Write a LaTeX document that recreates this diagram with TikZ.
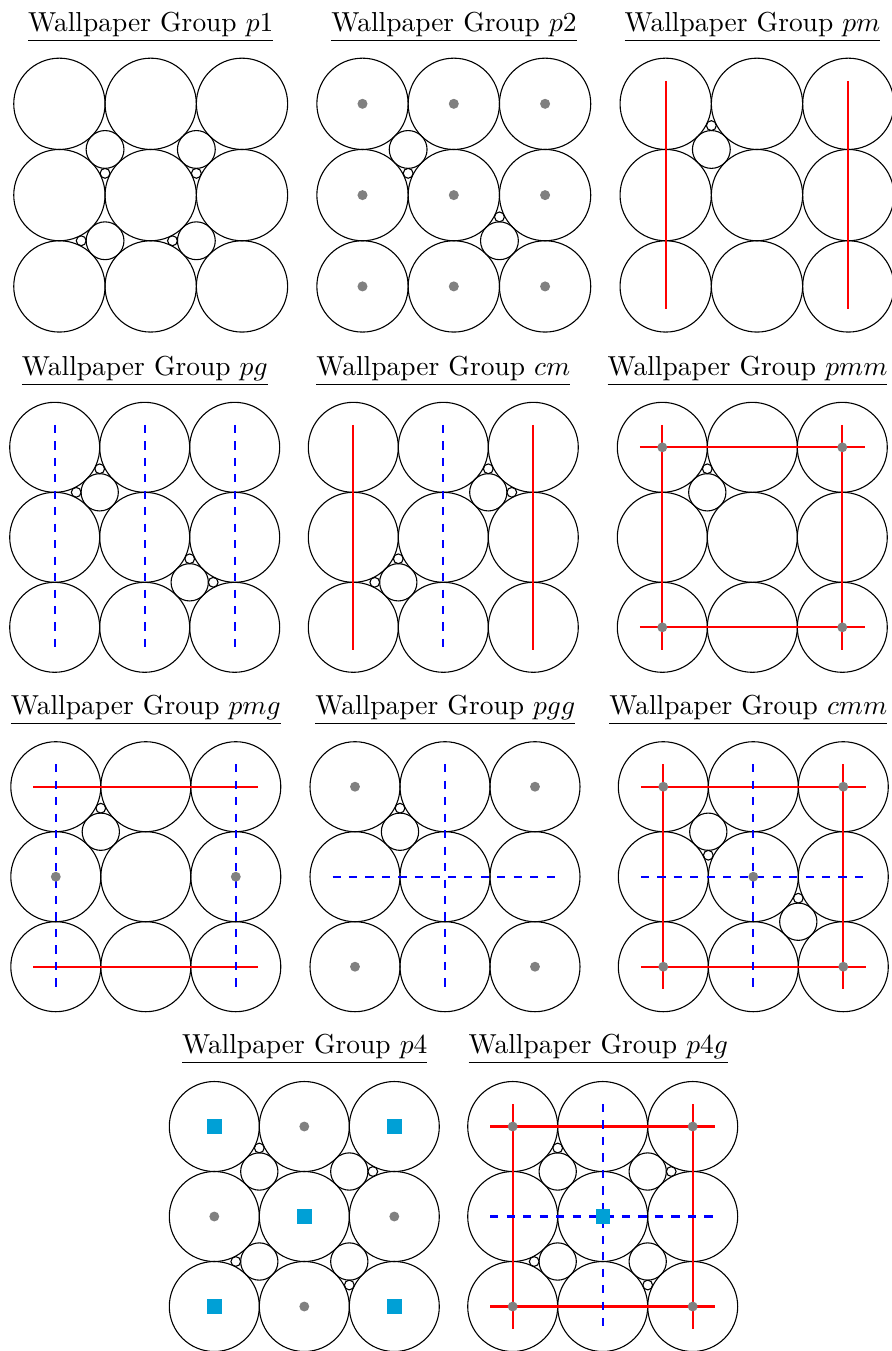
\documentclass[tikz,border=0pt]{standalone}
\usepackage{amsmath}
\definecolor{quartblue}{RGB}{0,160,214}

% nine touching circles round the panel centre (unit = circle radius)
\newcommand{\lattice}{%
  \foreach \cx in {-2,0,2}
    \foreach \cy in {-2,0,2}
      \draw[disc] (\cx,\cy) circle (1);%
}
% small circle next to the gap (#1,#2), towards direction (#3,#4)
\newcommand{\smalldisc}[4]{%
  \draw[disc] ({#1+0.5224*#3},{#2+0.5224*#4}) circle (0.1082);%
}
% gap circle at (#1,#2) with one small circle
\newcommand{\gapmotif}[4]{%
  \draw[disc] (#1,#2) circle (0.4142);
  \smalldisc{#1}{#2}{#3}{#4}%
}
\newcommand{\rotdot}[2]{\fill[gray] (#1,#2) circle (0.11);}
\newcommand{\quartsq}[2]{\fill[quartblue] ({#1-0.16},{#2-0.16}) rectangle ({#1+0.16},{#2+0.16});}

\begin{document}
\begin{tikzpicture}[
    x=0.3643pt, y=-0.3643pt,
    title/.style={anchor=base, inner sep=0pt},
    disc/.style={draw=black, line width=0.4pt},
    mirror/.style={red, thick},
    glide/.style={blue, thick, dashed}
]
\useasboundingbox (0,0) rectangle (892,1351);

% row 1
\node[title] (tp1) at (150.8,31.7) {\underline{Wallpaper Group $p1$}};
\node[title] (tp2) at (454,31.7) {\underline{Wallpaper Group $p2$}};
\node[title] (tpm) at (752.5,31.7) {\underline{Wallpaper Group $pm$}};

\begin{scope}[shift={(150.7,195.1)}, scale=45.65]
  \lattice
  \gapmotif{-1}{-1}{0}{1}
  \gapmotif{1}{-1}{0}{1}
  \gapmotif{-1}{1}{-1}{0}
  \gapmotif{1}{1}{-1}{0}
\end{scope}

\begin{scope}[shift={(453.8,195.1)}, scale=45.65]
  \lattice
  \gapmotif{-1}{-1}{0}{1}
  \gapmotif{1}{1}{0}{-1}
  \foreach \cx in {-2,0,2} {
    \foreach \cy in {-2,0,2} {
      \rotdot{\cx}{\cy}
    }
  }
\end{scope}

\begin{scope}[shift={(757,195.1)}, scale=45.65]
  \lattice
  \gapmotif{-1}{-1}{0}{-1}
  \draw[mirror] (-2,-2.5) -- (-2,2.5);
  \draw[mirror] (2,-2.5) -- (2,2.5);
\end{scope}

% row 2
\node[title] (tpg) at (144.8,375) {\underline{Wallpaper Group $pg$}};
\node[title] (tcm) at (443.3,375) {\underline{Wallpaper Group $cm$}};
\node[title] (tpmm) at (747.5,375) {\underline{Wallpaper Group $pmm$}};

\begin{scope}[shift={(144.7,537.3)}, scale=45]
  \lattice
  \gapmotif{-1}{-1}{0}{-1}
  \smalldisc{-1}{-1}{-1}{0}
  \gapmotif{1}{1}{0}{-1}
  \smalldisc{1}{1}{1}{0}
  \foreach \cx in {-2,0,2}
    \draw[glide] (\cx,-2.5) -- (\cx,2.5);
\end{scope}

\begin{scope}[shift={(443.3,537.3)}, scale=45]
  \lattice
  \gapmotif{1}{-1}{0}{-1}
  \smalldisc{1}{-1}{1}{0}
  \gapmotif{-1}{1}{0}{-1}
  \smalldisc{-1}{1}{-1}{0}
  \draw[mirror] (-2,-2.5) -- (-2,2.5);
  \draw[mirror] (2,-2.5) -- (2,2.5);
  \draw[glide] (0,-2.5) -- (0,2.5);
\end{scope}

\begin{scope}[shift={(752.3,537.3)}, scale=45]
  \lattice
  \gapmotif{-1}{-1}{0}{-1}
  \draw[mirror] (-2,-2.5) -- (-2,2.5);
  \draw[mirror] (2,-2.5) -- (2,2.5);
  \draw[mirror] (-2.5,-2) -- (2.5,-2);
  \draw[mirror] (-2.5,2) -- (2.5,2);
  \rotdot{-2}{-2} \rotdot{2}{-2} \rotdot{-2}{2} \rotdot{2}{2}
\end{scope}

% row 3
\node[title] (tpmg) at (145.8,714.3) {\underline{Wallpaper Group $pmg$}};
\node[title] (tpgg) at (445.3,714.3) {\underline{Wallpaper Group $pgg$}};
\node[title] (tcmm) at (748.3,714.3) {\underline{Wallpaper Group $cmm$}};

\begin{scope}[shift={(145.8,876.7)}, scale=45]
  \lattice
  \gapmotif{-1}{-1}{0}{-1}
  \draw[mirror] (-2.5,-2) -- (2.5,-2);
  \draw[mirror] (-2.5,2) -- (2.5,2);
  \draw[glide] (-2,-2.5) -- (-2,2.5);
  \draw[glide] (2,-2.5) -- (2,2.5);
  \rotdot{-2}{0} \rotdot{2}{0}
\end{scope}

\begin{scope}[shift={(445,876.7)}, scale=45]
  \lattice
  \gapmotif{-1}{-1}{0}{-1}
  \draw[glide] (0,-2.5) -- (0,2.5);
  \draw[glide] (-2.5,0) -- (2.5,0);
  \rotdot{-2}{-2} \rotdot{2}{-2} \rotdot{-2}{2} \rotdot{2}{2}
\end{scope}

\begin{scope}[shift={(753.3,876.7)}, scale=45]
  \lattice
  \gapmotif{-1}{-1}{0}{1}
  \gapmotif{1}{1}{0}{-1}
  \draw[mirror] (-2,-2.5) -- (-2,2.5);
  \draw[mirror] (2,-2.5) -- (2,2.5);
  \draw[mirror] (-2.5,-2) -- (2.5,-2);
  \draw[mirror] (-2.5,2) -- (2.5,2);
  \draw[glide] (0,-2.5) -- (0,2.5);
  \draw[glide] (-2.5,0) -- (2.5,0);
  \rotdot{-2}{-2} \rotdot{2}{-2} \rotdot{-2}{2} \rotdot{2}{2} \rotdot{0}{0}
\end{scope}

% row 4
\node[title] (tp4) at (304.7,1053.7) {\underline{Wallpaper Group $p4$}};
\node[title] (tp4g) at (598.3,1053.7) {\underline{Wallpaper Group $p4g$}};

\begin{scope}[shift={(304.3,1216.5)}, scale=45]
  \lattice
  \gapmotif{-1}{-1}{0}{-1}
  \gapmotif{1}{-1}{1}{0}
  \gapmotif{1}{1}{0}{1}
  \gapmotif{-1}{1}{-1}{0}
  \rotdot{0}{-2} \rotdot{-2}{0} \rotdot{2}{0} \rotdot{0}{2}
  \quartsq{-2}{-2} \quartsq{2}{-2} \quartsq{0}{0} \quartsq{-2}{2} \quartsq{2}{2}
\end{scope}

\begin{scope}[shift={(602.7,1216.5)}, scale=45]
  \lattice
  \gapmotif{-1}{-1}{0}{-1}
  \gapmotif{1}{-1}{1}{0}
  \gapmotif{1}{1}{0}{1}
  \gapmotif{-1}{1}{-1}{0}
  \draw[mirror] (-2,-2.5) -- (-2,2.5);
  \draw[mirror] (2,-2.5) -- (2,2.5);
  \draw[mirror] (-2.5,-2) -- (2.5,-2);
  \draw[mirror] (-2.5,2) -- (2.5,2);
  \draw[glide] (0,-2.5) -- (0,2.5);
  \draw[glide] (-2.5,0) -- (2.5,0);
  \rotdot{-2}{-2} \rotdot{2}{-2} \rotdot{-2}{2} \rotdot{2}{2}
  \quartsq{0}{0}
\end{scope}
\end{tikzpicture}
\end{document}
